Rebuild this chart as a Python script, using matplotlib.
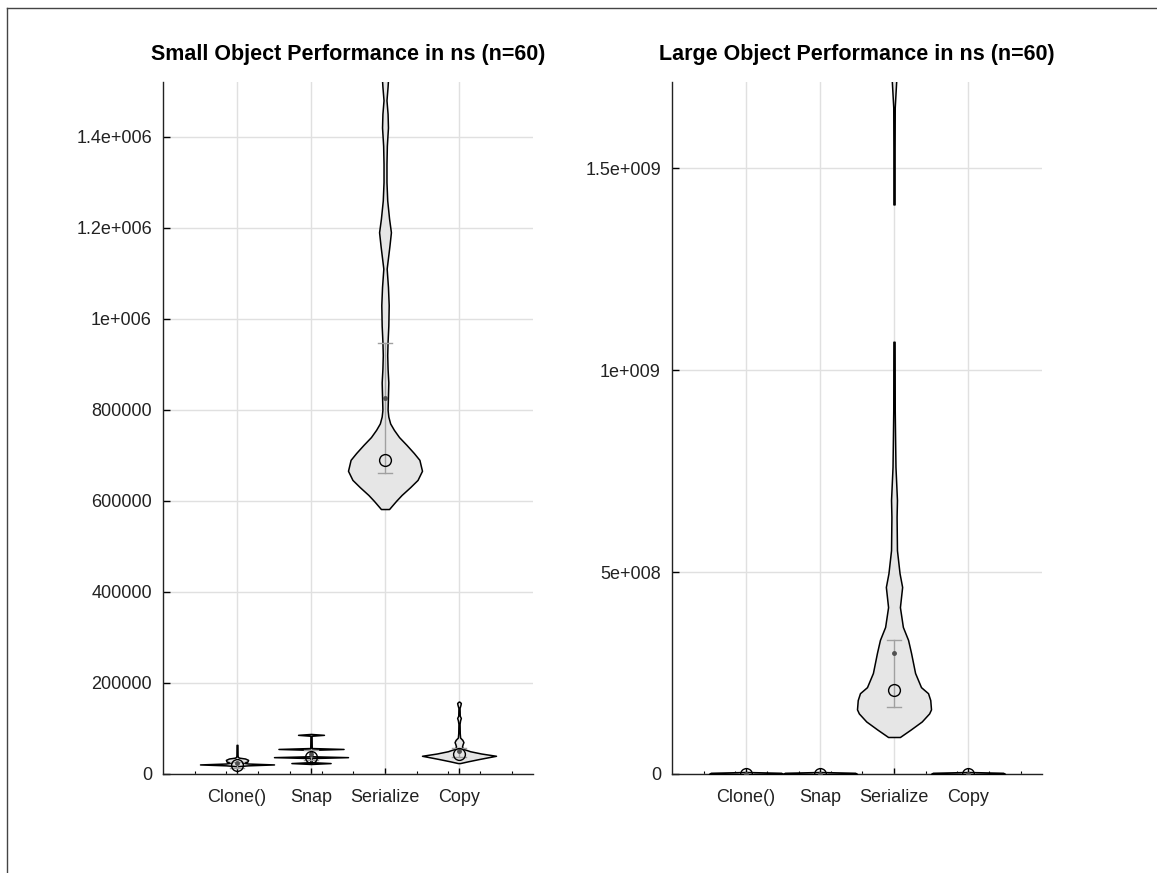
import numpy as np
import matplotlib
matplotlib.use("Agg")
import matplotlib.pyplot as plt
from matplotlib.lines import Line2D

plt.rcParams['font.family'] = ['Liberation Sans', 'DejaVu Sans']

labels = ['Clone()', 'Snap', 'Serialize', 'Copy']

# violin outlines: sample levels (ns) and relative half widths (1 = full width)
small_clone_y = [17e3, 19e3, 21e3, 23e3, 25e3, 27e3, 31e3, 34e3, 36e3, 38e3, 42e3, 64e3]
small_clone_w = [0.0, 0.3, 1.0, 0.3, 0.15, 0.28, 0.3, 0.22, 0.05, 0.02, 0.015, 0.012]

small_snap_y = [22e3, 24e3, 26e3, 35e3, 37e3, 39e3, 53e3, 55e3, 57e3, 84e3, 86e3, 88e3]
small_snap_w = [0.0, 0.53, 0.02, 0.02, 1.0, 0.02, 0.02, 0.88, 0.02, 0.015, 0.35, 0.0]

small_ser_y = [582e3, 600e3, 613e3, 630e3, 646e3, 666e3, 690e3, 705e3, 723e3, 740e3,
               756e3, 770e3, 785e3, 800e3, 830e3, 860e3, 890e3, 920e3, 950e3, 985e3,
               1.03e6, 1.07e6, 1.11e6, 1.16e6, 1.19e6, 1.22e6, 1.26e6, 1.30e6, 1.34e6,
               1.38e6, 1.42e6, 1.45e6, 1.48e6, 1.51e6, 1.55e6, 1.60e6]
small_ser_w = [0.11, 0.3, 0.45, 0.68, 0.88, 1.0, 0.93, 0.78, 0.58, 0.38,
               0.24, 0.14, 0.09, 0.07, 0.08, 0.09, 0.07, 0.06, 0.07, 0.09,
               0.10, 0.08, 0.045, 0.12, 0.16, 0.11, 0.06, 0.04, 0.04,
               0.05, 0.08, 0.07, 0.04, 0.07, 0.1, 0.06]

small_copy_y = [24e3, 28e3, 33e3, 40e3, 45e3, 50e3, 55e3, 60e3, 66e3, 70e3, 75e3, 80e3,
                90e3, 110e3, 118e3, 123e3, 128e3, 145e3, 152e3, 156e3, 159e3]
small_copy_w = [0.03, 0.25, 0.55, 1.0, 0.6, 0.3, 0.12, 0.08, 0.1, 0.12, 0.09, 0.03,
                0.02, 0.015, 0.03, 0.05, 0.02, 0.015, 0.04, 0.05, 0.01]

large_flat_y = [0, 3e6, 5e6]
large_flat_w = [1.0, 0.95, 0.0]

large_ser_y = [91.6e6, 110e6, 130e6, 150e6, 160e6, 183e6, 200e6, 215e6, 250e6, 300e6,
               332e6, 364e6, 413e6, 463e6, 497e6, 554e6, 636e6, 678e6, 760e6, 827e6,
               900e6, 1.0e9, 1.07e9]
large_ser_w = [0.16, 0.45, 0.75, 0.95, 1.0, 0.98, 0.92, 0.73, 0.57, 0.46,
               0.38, 0.24, 0.16, 0.22, 0.15, 0.08, 0.07, 0.08, 0.04, 0.03,
               0.02, 0.018, 0.016]
large_ser_tail_y = [1.41e9, 1.55e9, 1.65e9, 1.70e9, 1.75e9]
large_ser_tail_w = [0.016, 0.016, 0.02, 0.05, 0.08]

# summary statistics per group
small_median = [20e3, 37e3, 690e3, 44e3]
small_mean = [24e3, 45e3, 826e3, 51e3]
small_q1 = [13e3, 30e3, 661e3, 38e3]
small_q3 = [27e3, 52e3, 947e3, 58e3]

large_median = [0.3e6, 0.3e6, 208e6, 0.3e6]
large_mean = [0.5e6, 0.5e6, 300e6, 0.5e6]
large_q1 = [0.2e6, 0.2e6, 166e6, 0.2e6]
large_q3 = [0.6e6, 0.6e6, 332e6, 0.6e6]

small_ticks = [0, 200000, 400000, 600000, 800000, 1e6, 1.2e6, 1.4e6]
small_ticklabels = ['0', '200000', '400000', '600000', '800000', '1e+006', '1.2e+006', '1.4e+006']
large_ticks = [0, 5e8, 1e9, 1.5e9]
large_ticklabels = ['0', '5e+008', '1e+009', '1.5e+009']

HALF = 0.5
FILL = '#e6e6e6'


def violin(ax, pos, ys, ws):
    ys = np.asarray(ys, float)
    ws = np.asarray(ws, float) * HALF
    ax.fill_betweenx(ys, pos - ws, pos + ws, facecolor=FILL, edgecolor='black',
                     linewidth=1.1, zorder=3)


def stats(ax, pos, med, mean, q1, q3):
    ax.plot([pos, pos], [q1, q3], color='#a0a0a0', lw=1, zorder=4)
    for q in (q1, q3):
        ax.plot([pos - 0.1, pos + 0.1], [q, q], color='#a0a0a0', lw=1, zorder=4)
    ax.plot(pos, mean, marker='o', ms=2.5, color='#505050', zorder=5)
    ax.plot(pos, med, marker='o', ms=8.5, mfc='none', mec='black', mew=1, zorder=5)


def style(ax, title, ticks, ticklabels, top):
    ax.set_xlim(0, 5)
    ax.set_ylim(0, top)
    ax.set_xticks([1, 2, 3, 4])
    ax.set_xticklabels(labels)
    ax.set_xticks(np.arange(3 / 7, 5, 3 / 7), minor=True)
    ax.set_yticks(ticks)
    ax.set_yticklabels(ticklabels)
    ax.grid(True, which='major', color='#e0e0e0', lw=1, zorder=0)
    ax.set_axisbelow(True)
    for s in ('top', 'right'):
        ax.spines[s].set_visible(False)
    for s in ('left', 'bottom'):
        ax.spines[s].set_linewidth(1.0)
        ax.spines[s].set_color('#222222')
    ax.tick_params(axis='y', direction='in', length=5, width=1, pad=8,
                   labelsize=13, labelcolor='#222222')
    ax.tick_params(axis='x', which='major', direction='in', length=4, width=1, pad=11,
                   labelsize=13, labelcolor='#222222')
    ax.tick_params(axis='x', which='minor', direction='in', length=2, width=0.8)
    ax.set_title(title, fontsize=15.5, fontweight='bold', pad=16)


fig = plt.figure(figsize=(11.57, 8.73), dpi=100)
ax1 = fig.add_axes([163 / 1157, 99 / 873, 370 / 1157, 692 / 873])
ax2 = fig.add_axes([672 / 1157, 99 / 873, 370 / 1157, 692 / 873])

small = [(small_clone_y, small_clone_w), (small_snap_y, small_snap_w),
         (small_ser_y, small_ser_w), (small_copy_y, small_copy_w)]
for i, (ys, ws) in enumerate(small):
    violin(ax1, i + 1, ys, ws)
    stats(ax1, i + 1, small_median[i], small_mean[i], small_q1[i], small_q3[i])
style(ax1, 'Small Object Performance in ns (n=60)', small_ticks, small_ticklabels, 1.52e6)

for i in range(4):
    if labels[i] == 'Serialize':
        violin(ax2, i + 1, large_ser_y, large_ser_w)
        violin(ax2, i + 1, large_ser_tail_y, large_ser_tail_w)
    else:
        violin(ax2, i + 1, large_flat_y, large_flat_w)
    stats(ax2, i + 1, large_median[i], large_mean[i], large_q1[i], large_q3[i])
style(ax2, 'Large Object Performance in ns (n=60)', large_ticks, large_ticklabels, 1.713e9)

# window frame edges
fig.add_artist(Line2D([7 / 1157, 1], [1 - 8 / 873, 1 - 8 / 873], color='#444444', lw=1))
fig.add_artist(Line2D([7 / 1157, 7 / 1157], [0, 1 - 8 / 873], color='#444444', lw=1))

fig.savefig('out.png', dpi=100)
